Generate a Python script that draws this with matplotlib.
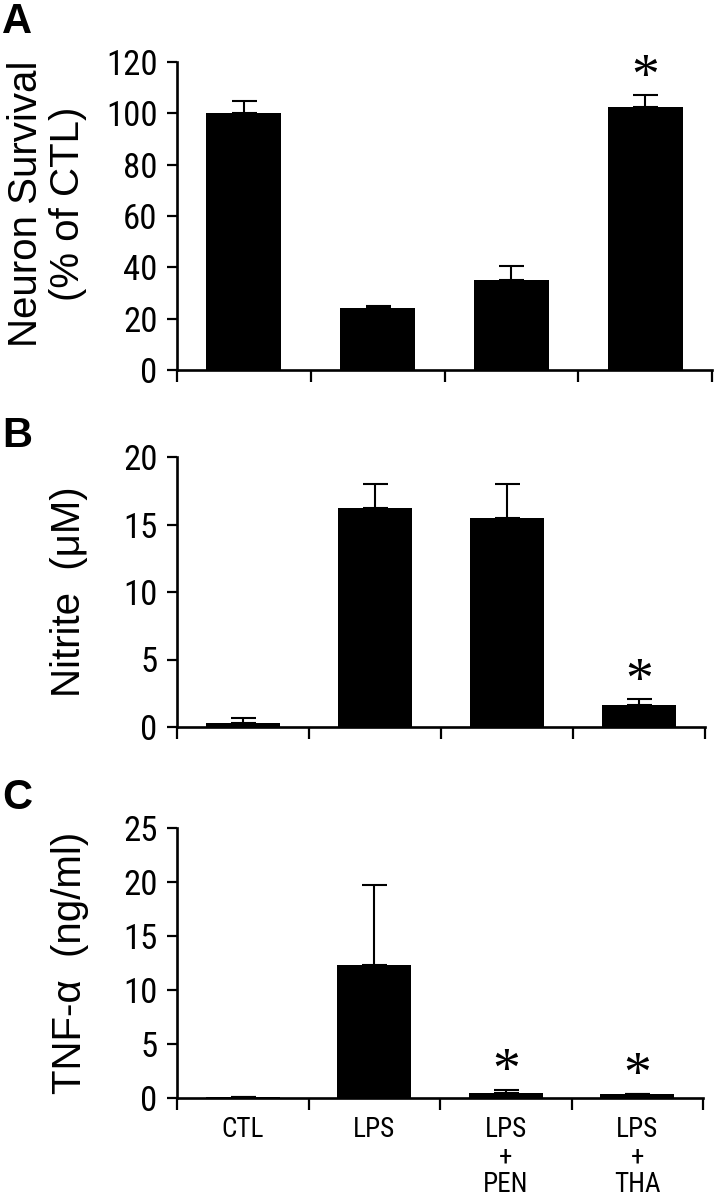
import numpy as np
import matplotlib
matplotlib.use('Agg')
import matplotlib.pyplot as plt
from matplotlib import font_manager

groups = ['CTL', 'LPS', 'LPS\n+\nPEN', 'LPS\n+\nTHA']

survival = [100, 24, 35, 102.5]
survival_err = [5, 0.8, 5.5, 4.5]
survival_star = [False, False, False, True]

nitrite = [0.3, 16.2, 15.5, 1.6]
nitrite_err = [0.4, 1.8, 2.5, 0.45]
nitrite_star = [False, False, False, True]

tnf = [0.05, 12.3, 0.45, 0.4]
tnf_err = [0, 7.4, 0.3, 0]
tnf_star = [False, False, True, True]

# pick a condensed face for the numbers if one is around
names = {f.name for f in font_manager.fontManager.ttflist}
narrow = 'Liberation Sans'
for cand in ['Liberation Sans Narrow', 'Roboto Condensed', 'Arial Narrow']:
    if cand in names:
        narrow = cand
        break

plt.rcParams['font.family'] = ['Liberation Sans', 'DejaVu Sans']

fig = plt.figure(figsize=(7.14, 12), dpi=100)

W, H = 714, 1200
# axes boxes in pixels: left, right, top, bottom, panel letter centre, label right edge
boxes = [(177, 712, 62, 370, 22, 87),
         (177, 705, 457, 727, 436, 88),
         (177, 703, 828, 1098, 798, 89)]

panels = [
    ('A', survival, survival_err, survival_star, 120, 20, 'Neuron Survival\n(% of CTL)'),
    ('B', nitrite, nitrite_err, nitrite_star, 20, 5, 'Nitrite  (\u03bcM)'),
    ('C', tnf, tnf_err, tnf_star, 25, 5, 'TNF-\u03b1  (ng/ml)'),
]

x = np.arange(len(groups)) + 0.5

for i, (letter, vals, errs, stars, ymax, step, ylab) in enumerate(panels):
    l, r, t, b, ly, lx = boxes[i]
    ax = fig.add_axes([l / W, 1 - b / H, (r - l) / W, (b - t) / H])

    ax.bar(x, vals, width=0.56, color='black', zorder=2)
    ax.errorbar(x, vals, yerr=[np.zeros(len(errs)), errs], fmt='none',
                ecolor='black', elinewidth=1.5, capsize=9, capthick=1.5, zorder=1)

    for xi, v, e, s in zip(x, vals, errs, stars):
        if s:
            ax.annotate('*', (xi, v + e), xytext=(0, 12), textcoords='offset points',
                        ha='center', va='center', fontsize=40, family='Liberation Serif')

    ax.set_xlim(0, 4)
    ax.set_ylim(0, ymax)
    ax.set_yticks(np.arange(0, ymax + 1, step))
    ax.set_xticks(np.arange(0, 5))
    ax.set_xticklabels([])
    ax.spines['top'].set_visible(False)
    ax.spines['right'].set_visible(False)
    for sp in ['left', 'bottom']:
        ax.spines[sp].set_linewidth(1.9)
        ax.spines[sp].set_clip_on(False)
    ax.tick_params(axis='y', direction='out', length=7, width=1.6, pad=7, labelsize=25)
    ax.tick_params(axis='x', direction='out', length=8.5, width=1.6)
    for lab in ax.get_yticklabels():
        lab.set_fontfamily(narrow)

    ax.set_ylabel(ylab, fontsize=29, linespacing=1.12)
    ax.yaxis.set_label_coords((lx - l) / (r - l), 0.54 if i == 0 else 0.5)

    fig.text(2 / W, 1 - ly / H, letter, fontsize=30, fontweight='bold',
             ha='left', va='center')

    if i == 2:
        ax.set_xticks(x, minor=True)
        ax.set_xticklabels(groups, minor=True)
        ax.tick_params(axis='x', which='minor', length=0, pad=13, labelsize=19.5)
        for lab in ax.get_xticklabels(minor=True):
            lab.set_fontfamily(narrow)
            lab.set_linespacing(1.02)

fig.savefig('out.png', dpi=100)
